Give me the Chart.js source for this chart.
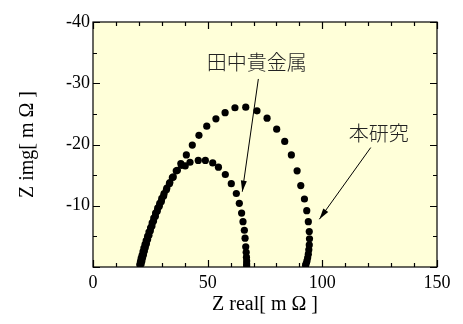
<!DOCTYPE html>
<html>
<head>
<meta charset="utf-8">
<script src="https://cdn.jsdelivr.net/npm/chart.js@4.4.1/dist/chart.umd.min.js"></script>
<style>
html, body { margin: 0; padding: 0; background: #fff; }
</style>
</head>
<body>
<canvas id="nyquist" width="463" height="324"></canvas>
<script>
// --- DATA (mΩ) ---
// 本研究 (outer arc), high frequency -> low frequency
const ourRe = [21.0, 21.3, 21.6, 22.0, 22.4, 22.8, 23.3, 23.8, 24.4, 25.0, 25.7, 26.4, 27.2, 28.0, 28.9, 29.8, 30.8, 32.0, 33.3, 34.6, 36.3, 38.3, 40.7, 43.3, 46.2, 49.6, 53.6, 57.6, 61.9, 66.6, 71.5, 75.9, 80.1, 83.6, 86.5, 89.0, 90.6, 92.2, 93.2, 93.9, 94.3, 94.4, 94.3, 94.1, 93.9, 93.6, 93.3, 93.0, 92.7];
const ourIm = [-0.5, -1.0, -1.5, -2.0, -2.6, -3.2, -3.8, -4.5, -5.2, -5.9, -6.7, -7.5, -8.3, -9.1, -9.9, -10.7, -11.6, -12.6, -13.6, -14.6, -15.7, -16.9, -18.3, -19.9, -21.5, -23.0, -24.2, -25.2, -26.0, -26.1, -25.5, -24.3, -22.5, -20.5, -18.3, -15.7, -13.3, -11.1, -9.2, -7.4, -5.8, -4.6, -3.6, -2.8, -2.1, -1.5, -1.0, -0.6, -0.3];
// 田中貴金属 (inner arc)
const tanakaRe = [20.4, 20.7, 21.0, 21.4, 21.8, 22.2, 22.7, 23.2, 23.8, 24.4, 25.1, 25.8, 26.5, 27.3, 28.2, 29.1, 30.0, 31.0, 32.2, 33.5, 35.0, 36.8, 38.6, 40.2, 42.3, 45.9, 49.0, 52.2, 54.7, 57.7, 60.3, 62.5, 63.8, 64.8, 65.4, 66.0, 66.3, 66.6, 66.8, 66.9, 67.0, 67.0, 67.0];
const tanakaIm = [-0.4, -0.9, -1.4, -1.9, -2.5, -3.1, -3.7, -4.3, -5.0, -5.7, -6.4, -7.2, -8.0, -8.8, -9.6, -10.4, -11.2, -12.0, -12.9, -13.8, -14.7, -15.8, -16.6, -16.5, -17.1, -17.4, -17.4, -17.0, -16.3, -15.1, -13.6, -12.0, -10.4, -8.8, -7.4, -6.0, -4.7, -3.3, -2.4, -1.6, -1.0, -0.5, -0.2];
const noteLabels = ['田中貴金属', '本研究'];
const xTitle = 'Z real[ m Ω ]';
const yTitle = 'Z img[ m Ω ]';

const toPoints = (re, im) => re.map((r, i) => ({ x: r, y: im[i] }));
const serif = "'Liberation Serif', 'Times New Roman', serif";

// --- PLOT FRAME, INWARD TICKS, ANNOTATIONS ---
function arrow(ctx, x1, y1, x2, y2) {
    ctx.beginPath();
    ctx.moveTo(x1, y1);
    ctx.lineTo(x2, y2);
    ctx.stroke();
    const a = Math.atan2(y2 - y1, x2 - x1), L = 11, W = 3;
    ctx.beginPath();
    ctx.moveTo(x2, y2);
    ctx.lineTo(x2 - L * Math.cos(a) + W * Math.sin(a), y2 - L * Math.sin(a) - W * Math.cos(a));
    ctx.lineTo(x2 - L * Math.cos(a) - W * Math.sin(a), y2 - L * Math.sin(a) + W * Math.cos(a));
    ctx.closePath();
    ctx.fill();
}

const framePlugin = {
    id: 'frame',
    beforeDatasetsDraw(chart) {
        const { ctx, chartArea: a, scales: { x, y } } = chart;
        ctx.save();
        ctx.fillStyle = '#ffffd9';
        ctx.fillRect(a.left, a.top, a.right - a.left, a.bottom - a.top);
        ctx.strokeStyle = '#000';
        ctx.lineWidth = 1.2;
        ctx.strokeRect(a.left, a.top, a.right - a.left, a.bottom - a.top);
        ctx.beginPath();
        for (let v = 0; v <= 150; v += 10) {
            const px = Math.round(x.getPixelForValue(v)) + 0.5;
            const len = v % 50 === 0 ? 7 : 4;
            ctx.moveTo(px, a.bottom); ctx.lineTo(px, a.bottom - len);
            ctx.moveTo(px, a.top); ctx.lineTo(px, a.top + len);
        }
        for (let v = -40; v <= 0; v += 5) {
            const py = Math.round(y.getPixelForValue(v)) + 0.5;
            const len = v % 10 === 0 ? 7 : 4;
            ctx.moveTo(a.left, py); ctx.lineTo(a.left + len, py);
            ctx.moveTo(a.right, py); ctx.lineTo(a.right - len, py);
        }
        ctx.stroke();
        ctx.restore();
    },
    afterDatasetsDraw(chart) {
        const { ctx, scales: { x, y } } = chart;
        const X = v => x.getPixelForValue(v), Y = v => y.getPixelForValue(v);
        ctx.save();
        ctx.fillStyle = '#000';
        ctx.strokeStyle = '#000';
        ctx.lineWidth = 1;
        ctx.font = "300 20px 'Noto Sans CJK JP', sans-serif";
        ctx.textAlign = 'center';
        ctx.textBaseline = 'middle';
        ctx.fillStyle = '#222';
        ctx.fillText(noteLabels[0], X(71.4), Y(-33.4));
        ctx.fillText(noteLabels[1], X(124.6), Y(-21.8));
        ctx.fillStyle = '#000';
        arrow(ctx, X(72.1), Y(-30.7), X(65.1), Y(-12.3));
        arrow(ctx, X(121.1), Y(-19.5), X(98.7), Y(-7.8));
        ctx.restore();
    }
};

// --- CHART ---
const ctx = document.getElementById('nyquist').getContext('2d');
new Chart(ctx, {
    type: 'scatter',
    data: {
        datasets: [
            { label: noteLabels[1], data: toPoints(ourRe, ourIm), backgroundColor: '#000', pointRadius: 3.6, pointBorderWidth: 0 },
            { label: noteLabels[0], data: toPoints(tanakaRe, tanakaIm), backgroundColor: '#000', pointRadius: 3.6, pointBorderWidth: 0 }
        ]
    },
    options: {
        responsive: false,
        animation: false,
        events: [],
        layout: { padding: { top: 22, right: 26, left: 0, bottom: 0 } },
        plugins: { legend: { display: false }, tooltip: { enabled: false } },
        scales: {
            x: {
                type: 'linear', min: 0, max: 150,
                grid: { display: false, drawTicks: false },
                border: { display: false },
                ticks: { stepSize: 50, padding: 5, color: '#000', font: { family: serif, size: 18 } },
                title: { display: true, text: xTitle, color: '#000', padding: { top: 0, bottom: 7 }, font: { family: serif, size: 20 } },
                afterFit: s => { s.height = 57; }
            },
            y: {
                type: 'linear', min: -40, max: 0, reverse: true,
                grid: { display: false, drawTicks: false },
                border: { display: false },
                ticks: { stepSize: 10, padding: 3, color: '#000', font: { family: serif, size: 18 },
                         callback: v => (v === 0 ? '' : v) },
                title: { display: true, text: yTitle, color: '#000', padding: { top: 16, bottom: 0 }, font: { family: serif, size: 20 } },
                afterFit: s => { s.width = 93; }
            }
        }
    },
    plugins: [framePlugin]
});
</script>
</body>
</html>
